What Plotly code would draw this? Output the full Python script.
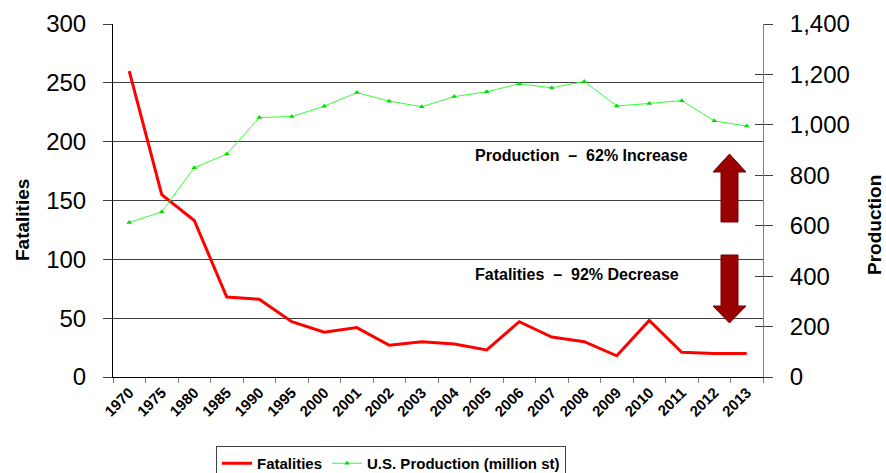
import plotly.graph_objects as go

# Coal mining fatalities vs. U.S. coal production
years = ["1970", "1975", "1980", "1985", "1990", "1995", "2000", "2001", "2002", "2003",
         "2004", "2005", "2006", "2007", "2008", "2009", "2010", "2011", "2012", "2013"]
fatalities = [260, 155, 133, 68, 66, 47, 38, 42, 27, 30,
              28, 23, 47, 34, 30, 18, 48, 21, 20, 20]
production = [613, 655, 830, 884, 1029, 1033, 1074, 1128, 1094, 1072,
              1112, 1131, 1163, 1147, 1172, 1075, 1085, 1096, 1016, 995]

W, H = 886, 473
L, R, T, B = 113, 123, 24, 96
PW, PH = W - L - R, H - T - B

FONT = "Liberation Sans, Arial, sans-serif"


def px(xp):
    return (xp - L) / PW


def py(yp):
    return (H - B - yp) / PH


fig = go.Figure()
fig.add_trace(go.Scatter(
    x=years, y=fatalities, name="Fatalities", mode="lines",
    line=dict(color="#ff0000", width=3), yaxis="y"))
fig.add_trace(go.Scatter(
    x=years, y=production, name="U.S. Production (million st)", mode="lines+markers",
    line=dict(color="#33ff33", width=1),
    marker=dict(symbol="triangle-up", size=5, color="#00dd00"), yaxis="y2"))
# helper trace so the crossing tick marks on the right axis are drawn
fig.add_trace(go.Scatter(x=[years[0]], y=[None], yaxis="y3", showlegend=False,
                         hoverinfo="skip"))


def arrow(x0, x1, s0, s1, ytip, ybase, yend):
    """Block arrow: head spans x0..x1, shaft spans s0..s1 (pixel coords)."""
    xm = (x0 + x1) / 2
    pts = [(xm, ytip), (x1, ybase), (s1, ybase), (s1, yend), (s0, yend), (s0, ybase), (x0, ybase)]
    return "M " + " L ".join(f"{px(a):.5f},{py(b):.5f}" for a, b in pts) + " Z"


shapes = [
    dict(type="path", xref="paper", yref="paper", path=arrow(713, 746, 721, 738, 154, 172, 222),
         fillcolor="#990000", line=dict(color="#7a0000", width=1)),
    dict(type="path", xref="paper", yref="paper", path=arrow(713, 746, 721, 738, 323, 306, 255),
         fillcolor="#990000", line=dict(color="#7a0000", width=1)),
]

annotations = [
    dict(text="<b>Production  –  62% Increase</b>", x=px(473), y=py(155), xref="paper", yref="paper",
         xanchor="left", yanchor="middle", showarrow=False, font=dict(family=FONT, size=16, color="#000")),
    dict(text="<b>Fatalities  –  92% Decrease</b>", x=px(473), y=py(274), xref="paper", yref="paper",
         xanchor="left", yanchor="middle", showarrow=False, font=dict(family=FONT, size=16, color="#000")),
    dict(text="<b>Fatalities</b>", x=px(22), y=py(220), xref="paper", yref="paper", textangle=-90,
         xanchor="center", yanchor="middle", showarrow=False, font=dict(family=FONT, size=19, color="#000")),
    dict(text="<b>Production</b>", x=px(875), y=py(225), xref="paper", yref="paper", textangle=-90,
         xanchor="center", yanchor="middle", showarrow=False, font=dict(family=FONT, size=19, color="#000")),
]

fig.update_layout(
    width=W, height=H,
    margin=dict(l=L, r=R, t=T, b=B, autoexpand=False),
    paper_bgcolor="white", plot_bgcolor="white",
    font=dict(family=FONT, color="#000"),
    showlegend=True,
    legend=dict(orientation="h", x=px(216), y=py(446), xanchor="left", yanchor="top",
                bordercolor="#404040", borderwidth=1, bgcolor="white",
                font=dict(family=FONT, size=15, color="#000", weight="bold"),
                itemwidth=30, traceorder="normal"),
    xaxis=dict(type="category", range=[-0.5, len(years) - 0.5], tickson="boundaries",
               ticks="outside", ticklen=5, tickcolor="#808080", showline=True, linecolor="#000",
               linewidth=1, showgrid=False, tickangle=-45,
               tickfont=dict(family=FONT, size=15, color="#000", weight="bold")),
    yaxis=dict(range=[0, 300], dtick=50, ticks="outside", ticklen=9, tickcolor="#404040",
               showline=True, linecolor="#000", linewidth=1, showgrid=True, gridcolor="#404040",
               gridwidth=1, zeroline=False, ticklabelstandoff=12,
               tickfont=dict(family=FONT, size=24, color="#000")),
    yaxis2=dict(range=[0, 1400], dtick=200, tickformat=",", overlaying="y", side="right",
                ticks="outside", ticklen=9, tickcolor="#404040", showline=True, linecolor="#808080",
                showgrid=False, zeroline=False, ticklabelstandoff=12,
                tickfont=dict(family=FONT, size=24, color="#000")),
    yaxis3=dict(range=[0, 1400], dtick=200, overlaying="y", side="right", ticks="inside",
                ticklen=8, tickcolor="#404040", showline=False, showgrid=False, zeroline=False,
                showticklabels=False),
    shapes=shapes,
    annotations=annotations,
)

fig.write_html("out.html")
